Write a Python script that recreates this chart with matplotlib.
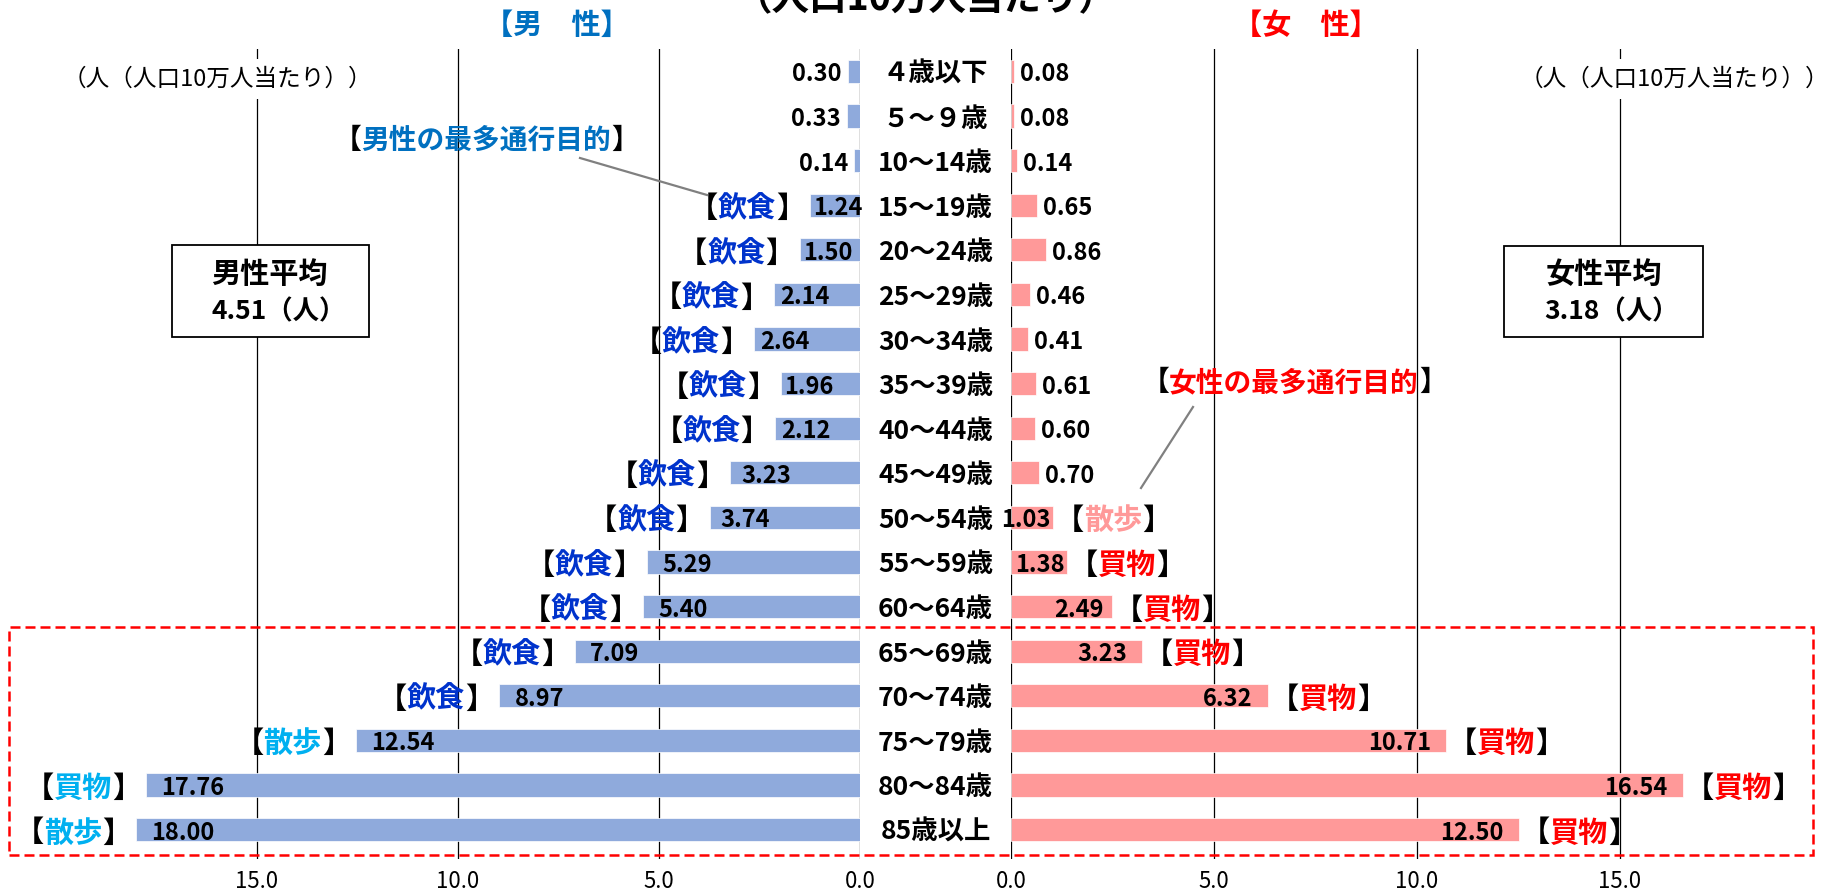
import matplotlib
matplotlib.use("Agg")
import matplotlib.pyplot as plt
from matplotlib import transforms
from matplotlib.offsetbox import TextArea, HPacker, AnnotationBbox
from matplotlib.patches import Rectangle
from matplotlib.lines import Line2D

plt.rcParams['font.family'] = ['Noto Sans CJK JP', 'DejaVu Sans']

# ---- data -------------------------------------------------------------
categories = ["４歳以下", "５～９歳", "10～14歳", "15～19歳", "20～24歳", "25～29歳",
              "30～34歳", "35～39歳", "40～44歳", "45～49歳", "50～54歳", "55～59歳",
              "60～64歳", "65～69歳", "70～74歳", "75～79歳", "80～84歳", "85歳以上"]
male_values = [0.30, 0.33, 0.14, 1.24, 1.50, 2.14, 2.64, 1.96, 2.12, 3.23, 3.74,
               5.29, 5.40, 7.09, 8.97, 12.54, 17.76, 18.00]
female_values = [0.08, 0.08, 0.14, 0.65, 0.86, 0.46, 0.41, 0.61, 0.60, 0.70, 1.03,
                 1.38, 2.49, 3.23, 6.32, 10.71, 16.54, 12.50]
male_purpose = ["", "", "", "飲食", "飲食", "飲食", "飲食", "飲食", "飲食", "飲食",
                "飲食", "飲食", "飲食", "飲食", "飲食", "散歩", "買物", "散歩"]
female_purpose = ["", "", "", "", "", "", "", "", "", "", "散歩", "買物", "買物",
                  "買物", "買物", "買物", "買物", "買物"]
tick_values = [0, 5, 10, 15]
male_avg = 4.51
female_avg = 3.18

# ---- styling ----------------------------------------------------------
MALE_BAR = '#8FAADC'
FEMALE_BAR = '#FF9999'
MALE_HEAD = '#0070C0'
FEMALE_HEAD = '#FF0000'
male_purpose_colors = {'飲食': '#0033CC', '散歩': '#00B0F0', '買物': '#00B0F0'}
female_purpose_colors = {'散歩': '#FF9999', '買物': '#FF0000'}

W, H, DPI = 1837, 894, 100
PT = 72 / DPI  # points per pixel
TEXT_DY = -3 * PT  # nudge row texts down onto the bar centre line

fig = plt.figure(figsize=(W / DPI, H / DPI), dpi=DPI)
fig.patch.set_facecolor('white')


def fx(px):
    return px / W


def fy(py):
    return 1 - py / H


TOP, BOTTOM = 49, 859
M_LEFT, M_ZERO = 10, 860
F_ZERO, F_RIGHT = 1011, 1830
SCALE_M, SCALE_F = 40.2, 40.6
FIRST_Y, LAST_Y = 71.5, 829.5
n = len(categories)
row_px = (LAST_Y - FIRST_Y) / (n - 1)
y_top = -(FIRST_Y - TOP) / row_px
y_bot = (n - 1) + (BOTTOM - LAST_Y) / row_px

ax_m = fig.add_axes([fx(M_LEFT), fy(BOTTOM), (M_ZERO - M_LEFT) / W, (BOTTOM - TOP) / H])
ax_f = fig.add_axes([fx(F_ZERO), fy(BOTTOM), (F_RIGHT - F_ZERO) / W, (BOTTOM - TOP) / H])
ax_m.set_xlim((M_ZERO - M_LEFT) / SCALE_M, 0)
ax_f.set_xlim(0, (F_RIGHT - F_ZERO) / SCALE_F)

for ax in (ax_m, ax_f):
    ax.set_ylim(y_bot, y_top)
    ax.set_facecolor('none')
    for s in ax.spines.values():
        s.set_visible(False)
    ax.set_yticks([])
    ax.set_xticks(tick_values)
    ax.set_xticklabels([f'{t:.1f}' for t in tick_values])
    ax.tick_params(axis='x', length=0, pad=8, labelsize=16)
    for t in tick_values:
        ax.axvline(t, color='black', lw=0.9, zorder=0.5)

ypos = list(range(n))
ax_m.barh(ypos, male_values, height=0.52, color=MALE_BAR, edgecolor='white',
          linewidth=0.5, zorder=2)
ax_f.barh(ypos, female_values, height=0.52, color=FEMALE_BAR, edgecolor='white',
          linewidth=0.5, zorder=2)

VAL_FS = 17
PUR_FS = 21


def purpose_box(word, color, fs):
    parts = [TextArea('【', textprops=dict(color='black', fontsize=fs, fontweight='bold')),
             TextArea(word, textprops=dict(color=color, fontsize=fs, fontweight='bold')),
             TextArea('】', textprops=dict(color='black', fontsize=fs, fontweight='bold'))]
    return HPacker(children=parts, align='baseline', pad=0, sep=0)


def inside_offset(v):
    if v < 2:
        return 3
    if v < 3:
        return 6
    if v < 5:
        return 11
    return 15


# male side (bars grow to the left)
for i, (v, p) in enumerate(zip(male_values, male_purpose)):
    if v < 1:
        ax_m.annotate(f'{v:.2f}', xy=(v, i), xytext=(-6 * PT, TEXT_DY), textcoords='offset points',
                      ha='right', va='center', fontsize=VAL_FS, fontweight='bold', zorder=4)
    else:
        ax_m.annotate(f'{v:.2f}', xy=(v, i), xytext=(inside_offset(v) * PT, TEXT_DY),
                      textcoords='offset points', ha='left', va='center',
                      fontsize=VAL_FS, fontweight='bold', zorder=4)
    if p:
        ab = AnnotationBbox(purpose_box(p, male_purpose_colors[p], PUR_FS), (v, i),
                            xybox=(-5 * PT, TEXT_DY), boxcoords='offset points',
                            box_alignment=(1, 0.5), frameon=False, pad=0, zorder=4)
        ax_m.add_artist(ab)

# female side
for i, (v, p) in enumerate(zip(female_values, female_purpose)):
    if v < 1:
        ax_f.annotate(f'{v:.2f}', xy=(v, i), xytext=(6 * PT, TEXT_DY), textcoords='offset points',
                      ha='left', va='center', fontsize=VAL_FS, fontweight='bold', zorder=4)
    else:
        off = 2 if v < 2 else (8 if v < 3 else 15)
        ax_f.annotate(f'{v:.2f}', xy=(v, i), xytext=(-off * PT, TEXT_DY), textcoords='offset points',
                      ha='right', va='center', fontsize=VAL_FS, fontweight='bold', zorder=4)
    if p:
        ab = AnnotationBbox(purpose_box(p, female_purpose_colors[p], PUR_FS), (v, i),
                            xybox=(2 * PT, TEXT_DY), boxcoords='offset points',
                            box_alignment=(0, 0.5), frameon=False, pad=0, zorder=4)
        ax_f.add_artist(ab)

# age-group labels between the two panels
cat_tr = transforms.offset_copy(
    transforms.blended_transform_factory(fig.transFigure, ax_m.transData),
    fig=fig, x=0, y=-3, units='dots')
for i, c in enumerate(categories):
    ax_m.text(fx(935.5), i, c, transform=cat_tr, ha='center', va='center',
              fontsize=19, fontweight='bold', clip_on=False, zorder=4)

# headings
fig.text(fx(925), fy(-1), '（人口10万人当たり）', ha='center', va='center',
         fontsize=27, fontweight='bold')
fig.text(fx(557), fy(25), '【男　性】', ha='center', va='center', fontsize=21,
         fontweight='bold', color=MALE_HEAD)
fig.text(fx(1306), fy(25), '【女　性】', ha='center', va='center', fontsize=21,
         fontweight='bold', color=FEMALE_HEAD)

unit_bbox = dict(facecolor='white', edgecolor='none', pad=6)
fig.text(fx(217), fy(79), '（人（人口10万人当たり））', ha='center', va='center',
         fontsize=17, bbox=unit_bbox)
fig.text(fx(1674), fy(79), '（人（人口10万人当たり））', ha='center', va='center',
         fontsize=17, bbox=unit_bbox)

# average boxes
for (x0, x1, y0, y1), title, avg, cx1, cx2 in [
        ((172, 369, 245, 337), '男性平均', male_avg, 269, 279),
        ((1504, 1703, 246, 337), '女性平均', female_avg, 1604, 1612)]:
    fig.add_artist(Rectangle((fx(x0), fy(y1)), (x1 - x0) / W, (y1 - y0) / H,
                             transform=fig.transFigure, facecolor='white',
                             edgecolor='black', lw=1.3, zorder=3))
    fig.text(fx(cx1), fy(274), title, ha='center', va='center', fontsize=21,
             fontweight='bold', zorder=4)
    fig.text(fx(cx2), fy(312), f'{avg:.2f}（人）', ha='center', va='center',
             fontsize=19, fontweight='bold', zorder=4)

# callouts for the most common purpose
for (cx, cy), word, color, (lx0, ly0, lx1, ly1) in [
        ((486, 141), '男性の最多通行目的', MALE_HEAD, (580, 158, 707, 195)),
        ((1294, 383), '女性の最多通行目的', FEMALE_HEAD, (1193, 407, 1141, 488))]:
    fig.add_artist(AnnotationBbox(purpose_box(word, color, 20), (fx(cx), fy(cy)),
                                  xycoords='figure fraction', box_alignment=(0.5, 0.5),
                                  frameon=False, pad=0, zorder=4))
    fig.add_artist(Line2D([fx(lx0), fx(lx1)], [fy(ly0), fy(ly1)], transform=fig.transFigure,
                          color='#808080', lw=1.6, zorder=3))

# dashed frame around the 65+ age groups
fig.add_artist(Rectangle((fx(9), fy(855)), (1813 - 9) / W, (855 - 627) / H,
                         transform=fig.transFigure, fill=False, edgecolor='#FF0000',
                         lw=1.8, linestyle=(0, (4, 2)), zorder=5))

fig.savefig('out.png', dpi=DPI, facecolor='white')
